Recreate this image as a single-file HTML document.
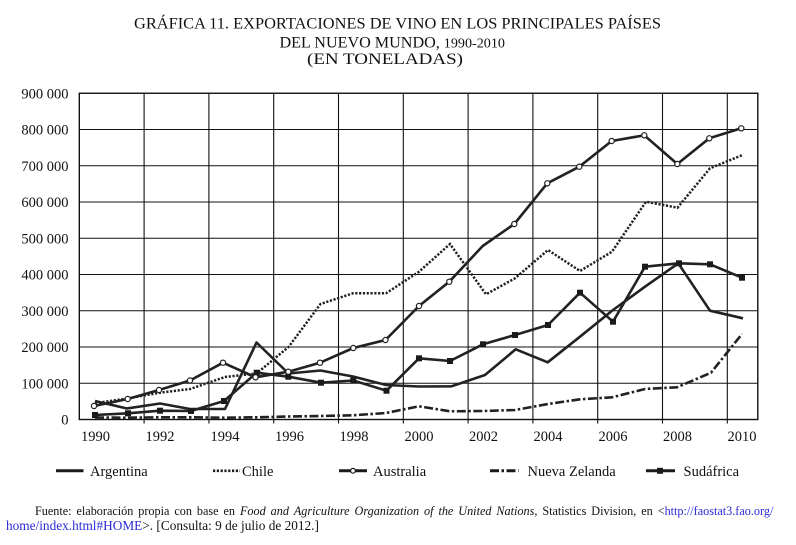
<!DOCTYPE html>
<html>
<head>
<meta charset="utf-8">
<style>
  html,body{margin:0;padding:0;background:#fff;}
  body{width:796px;height:545px;position:relative;overflow:hidden;font-family:"Liberation Serif",serif;color:#111;}
  svg{position:absolute;left:0;top:0;}
  .foot{position:absolute;font-size:13.3px;line-height:16px;white-space:nowrap;color:#111;}
  .flex{display:flex;justify-content:space-between;font-size:12.2px;}
  .lnk{color:#2b2bd6;}
</style>
</head>
<body>
<svg width="796" height="545" viewBox="0 0 796 545" xmlns="http://www.w3.org/2000/svg" font-family="Liberation Serif, serif" fill="#111">
  <!-- Title -->
  <text x="134" y="28.3" font-size="16" textLength="527" lengthAdjust="spacingAndGlyphs">GRÁFICA 11. EXPORTACIONES DE VINO EN LOS PRINCIPALES PAÍSES</text>
  <text x="279.5" y="47.5" font-size="16" textLength="225.5" lengthAdjust="spacingAndGlyphs">DEL NUEVO MUNDO, <tspan font-size="14">1990-2010</tspan></text>
  <text x="307" y="64" font-size="16" textLength="156" lengthAdjust="spacingAndGlyphs">(EN TONELADAS)</text>

  <!-- Grid -->
  <g stroke="#111" stroke-width="1.1" fill="none">
    <line x1="79.3" y1="129.5" x2="757.8" y2="129.5"/>
    <line x1="79.3" y1="165.75" x2="757.8" y2="165.75"/>
    <line x1="79.3" y1="202" x2="757.8" y2="202"/>
    <line x1="79.3" y1="238.25" x2="757.8" y2="238.25"/>
    <line x1="79.3" y1="274.5" x2="757.8" y2="274.5"/>
    <line x1="79.3" y1="310.75" x2="757.8" y2="310.75"/>
    <line x1="79.3" y1="347" x2="757.8" y2="347"/>
    <line x1="79.3" y1="383.25" x2="757.8" y2="383.25"/>
    <line x1="144.1" y1="93.25" x2="144.1" y2="423.5"/>
    <line x1="208.9" y1="93.25" x2="208.9" y2="423.5"/>
    <line x1="273.7" y1="93.25" x2="273.7" y2="423.5"/>
    <line x1="338.5" y1="93.25" x2="338.5" y2="423.5"/>
    <line x1="403.3" y1="93.25" x2="403.3" y2="423.5"/>
    <line x1="468.1" y1="93.25" x2="468.1" y2="423.5"/>
    <line x1="532.9" y1="93.25" x2="532.9" y2="423.5"/>
    <line x1="597.7" y1="93.25" x2="597.7" y2="423.5"/>
    <line x1="662.5" y1="93.25" x2="662.5" y2="423.5"/>
    <line x1="727.3" y1="93.25" x2="727.3" y2="423.5"/>
    <rect x="79.3" y="93.25" width="678.5" height="326.25" stroke-width="1.4"/>
  </g>

  <!-- Y labels -->
  <g font-size="14.5" text-anchor="end">
    <text x="68.5" y="98.3">900 000</text>
    <text x="68.5" y="134.5">800 000</text>
    <text x="68.5" y="170.8">700 000</text>
    <text x="68.5" y="207">600 000</text>
    <text x="68.5" y="243.3">500 000</text>
    <text x="68.5" y="279.5">400 000</text>
    <text x="68.5" y="315.8">300 000</text>
    <text x="68.5" y="352">200 000</text>
    <text x="68.5" y="388.3">100 000</text>
    <text x="68.5" y="424.5">0</text>
  </g>

  <!-- X labels -->
  <g font-size="14.5" text-anchor="middle">
    <text x="95.5" y="441">1990</text>
    <text x="160" y="441">1992</text>
    <text x="225" y="441">1994</text>
    <text x="289.5" y="441">1996</text>
    <text x="354" y="441">1998</text>
    <text x="419" y="441">2000</text>
    <text x="483.5" y="441">2002</text>
    <text x="548" y="441">2004</text>
    <text x="613" y="441">2006</text>
    <text x="677.5" y="441">2008</text>
    <text x="742" y="441">2010</text>
  </g>

  <!-- Series -->
  <g fill="none" stroke="#222" stroke-width="2.6" stroke-linejoin="round">
    <!-- Nueva Zelanda -->
    <polyline stroke-dasharray="9 2.5 2.5 2.5" points="95,417.5 127,417.7 160,417.3 190,417.3 225,417.7 256.5,417.3 288.5,416.5 320.5,416 353,415.3 386,413 419,406.3 450,411.3 483,411 515,410 548,404 580,399.3 612,397.3 645,389 677,387.3 711,372.7 742,334"/>
    <!-- Chile -->
    <polyline stroke-dasharray="2.2 1.6" stroke-width="2.5" stroke-linejoin="miter" points="95,403.3 127,398.5 160,392.7 190,389 225,377 256.5,373.5 288.5,347 320.5,304 353,293.3 386,293.3 419,271.7 450,244 486,294.3 515,278.3 548,250 580,271 612,251.7 646,201.7 677.5,207.7 710,168.3 742.5,155"/>
    <!-- Argentina -->
    <polyline points="95,401 127,408.5 160,403.5 190,409 225,409 256.5,342.5 288.5,373.5 320.5,370.5 353,376.5 386,385 419,386.5 451.5,386.3 485,375 515.7,349.3 547.7,362.3 580,336.7 613,310 645,286.7 678.3,263.3 710,310.7 743,318.3"/>
    <!-- Sudáfrica -->
    <polyline points="95,415 128,413.3 160,410.7 191,411 224,401 256.7,372.7 288.3,376.7 321,382.7 353.3,380.5 386.5,390.7 419,358.3 450,361 483,344.3 515,335 548,325 580,292.7 613,321.7 645,266.7 679,263.3 710,264.3 742,277.7"/>
    <!-- Australia -->
    <polyline points="94,406 127.7,399 159,390 190,380.5 223,362.7 255.5,377.3 288.3,371.7 320,362.7 353.3,348 385.5,340 419,306 449.3,281.7 482.7,246 514.3,224 547.3,183.3 579.3,166.7 611.7,141 644.3,135.3 677.3,164 709.3,138.3 741.3,128.3"/>
  </g>

  <!-- Sudáfrica markers -->
  <g fill="#1a1a1a">
    <rect x="92" y="412" width="6" height="6"/>
    <rect x="125" y="410.3" width="6" height="6"/>
    <rect x="157" y="407.7" width="6" height="6"/>
    <rect x="188" y="408" width="6" height="6"/>
    <rect x="221" y="398" width="6" height="6"/>
    <rect x="253.7" y="369.7" width="6" height="6"/>
    <rect x="285.3" y="373.7" width="6" height="6"/>
    <rect x="318" y="379.7" width="6" height="6"/>
    <rect x="350.3" y="377.5" width="6" height="6"/>
    <rect x="383.5" y="387.7" width="6" height="6"/>
    <rect x="416" y="355.3" width="6" height="6"/>
    <rect x="447" y="358" width="6" height="6"/>
    <rect x="480" y="341.3" width="6" height="6"/>
    <rect x="512" y="332" width="6" height="6"/>
    <rect x="545" y="322" width="6" height="6"/>
    <rect x="577" y="289.7" width="6" height="6"/>
    <rect x="610" y="318.7" width="6" height="6"/>
    <rect x="642" y="263.7" width="6" height="6"/>
    <rect x="676" y="260.3" width="6" height="6"/>
    <rect x="707" y="261.3" width="6" height="6"/>
    <rect x="739" y="274.7" width="6" height="6"/>
  </g>

  <!-- Australia markers -->
  <g fill="#fff" stroke="#222" stroke-width="1.2">
    <circle cx="94" cy="406" r="2.6"/>
    <circle cx="127.7" cy="399" r="2.6"/>
    <circle cx="159" cy="390" r="2.6"/>
    <circle cx="190" cy="380.5" r="2.6"/>
    <circle cx="223" cy="362.7" r="2.6"/>
    <circle cx="255.5" cy="377.3" r="2.6"/>
    <circle cx="288.3" cy="371.7" r="2.6"/>
    <circle cx="320" cy="362.7" r="2.6"/>
    <circle cx="353.3" cy="348" r="2.6"/>
    <circle cx="385.5" cy="340" r="2.6"/>
    <circle cx="419" cy="306" r="2.6"/>
    <circle cx="449.3" cy="281.7" r="2.6"/>
    <circle cx="514.3" cy="224" r="2.6"/>
    <circle cx="547.3" cy="183.3" r="2.6"/>
    <circle cx="579.3" cy="166.7" r="2.6"/>
    <circle cx="611.7" cy="141" r="2.6"/>
    <circle cx="644.3" cy="135.3" r="2.6"/>
    <circle cx="677.3" cy="164" r="2.6"/>
    <circle cx="709.3" cy="138.3" r="2.6"/>
    <circle cx="741.3" cy="128.3" r="2.6"/>
  </g>

  <!-- Legend -->
  <g stroke="#1a1a1a" fill="none" stroke-width="3">
    <line x1="56" y1="470.8" x2="83.5" y2="470.8"/>
    <line x1="213" y1="470.8" x2="240" y2="470.8" stroke-dasharray="2.2 1.6" stroke-width="2.6"/>
    <line x1="339" y1="470.8" x2="367" y2="470.8"/>
    <line x1="490" y1="470.8" x2="518.5" y2="470.8" stroke-dasharray="9 2.5 2.5 2.5"/>
    <line x1="646" y1="470.8" x2="675" y2="470.8"/>
  </g>
  <circle cx="353" cy="470.8" r="2.4" fill="#fff" stroke="#1a1a1a" stroke-width="1.2"/>
  <rect x="657" y="467.8" width="6" height="6" fill="#1a1a1a"/>
  <g font-size="14.5">
    <text x="90" y="476">Argentina</text>
    <text x="242" y="476">Chile</text>
    <text x="373" y="476">Australia</text>
    <text x="527.5" y="476">Nueva Zelanda</text>
    <text x="683.5" y="476">Sudáfrica</text>
  </g>
</svg>

<div class="foot flex" style="left:35px;top:502.8px;width:738.5px;"><span>Fuente:</span><span>elaboración</span><span>propia</span><span>con</span><span>base</span><span>en</span><i>Food</i><i>and</i><i>Agriculture</i><i>Organization</i><i>of</i><i>the</i><i>United</i><span><i>Nations</i>,</span><span>Statistics</span><span>Division,</span><span>en</span><span>&lt;<span class="lnk">http://faostat3.fao.org/</span></span></div>
<div class="foot" style="left:6px;top:517.8px;"><span class="lnk">home/index.html#HOME</span>&gt;. [Consulta: 9 de julio de 2012.]</div>
</body>
</html>
